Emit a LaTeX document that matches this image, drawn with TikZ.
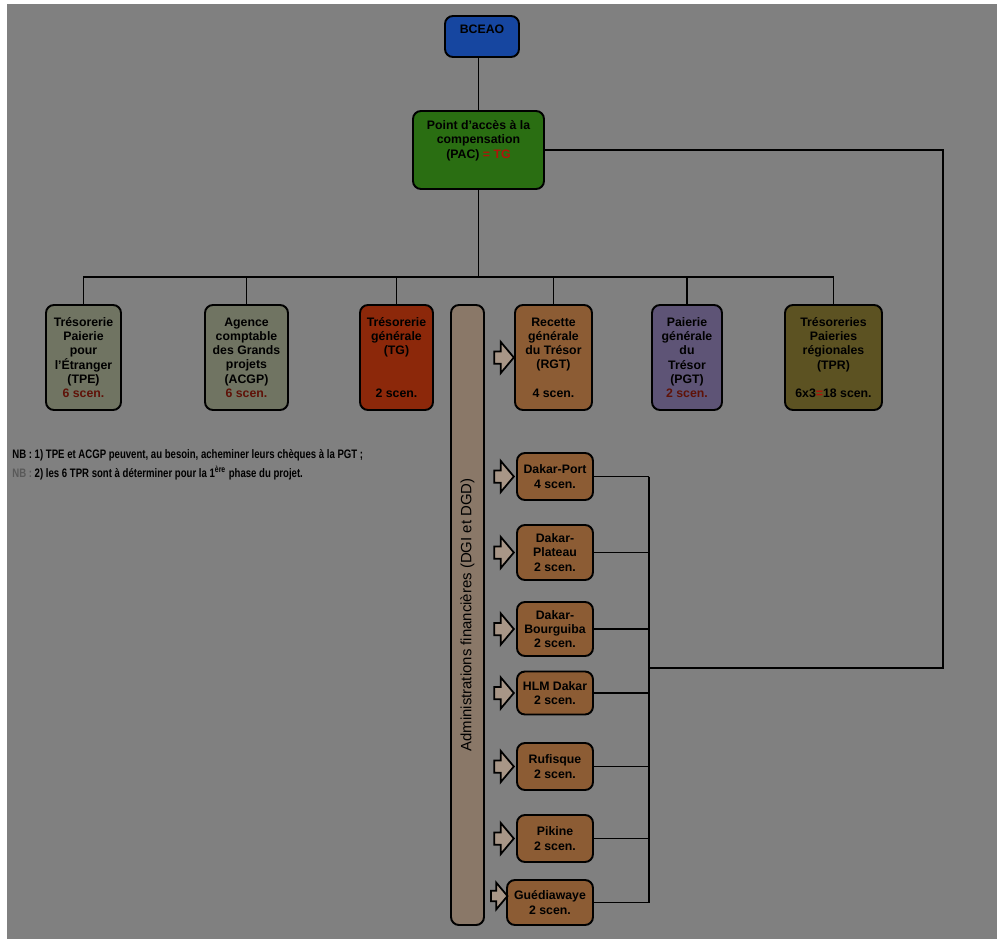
\documentclass[tikz,border=0pt]{standalone}
\usepackage{fontspec}
\setmainfont{Liberation Sans}
\newfontfamily\narrowfont[FakeStretch=0.78]{Liberation Sans}
\usepackage{xcolor}
\usetikzlibrary{shapes.arrows}

\definecolor{fond}{RGB}{128,128,128}
\definecolor{bleu}{RGB}{22,70,160}
\definecolor{vert}{RGB}{42,110,18}
\definecolor{grisvert}{RGB}{112,116,98}
\definecolor{brique}{RGB}{140,40,10}
\definecolor{brun}{RGB}{140,92,52}
\definecolor{mauve}{RGB}{94,84,118}
\definecolor{olive}{RGB}{92,82,34}
\definecolor{bandefond}{RGB}{138,120,104}
\definecolor{flechefond}{RGB}{168,150,135}
\definecolor{rouge}{RGB}{175,20,10}
\definecolor{rougefonce}{RGB}{95,18,8}

\begin{document}
\begin{tikzpicture}[x=0.2mm,y=-0.2mm]

\tikzset{
    box/.style = {
    draw, line width=1.1pt,
    rounded corners=1.6mm,
    align=center, inner sep=1pt,
    font=\fontsize{7}{8.1}\selectfont\bfseries
    }
}

\tikzstyle{siege}=[box, fill=bleu, minimum width=14.8mm, minimum height=8.2mm]
\tikzstyle{pac}=[box, fill=vert, minimum width=26.2mm, minimum height=15.6mm]
\tikzstyle{tresor}=[box, minimum width=15mm, minimum height=21mm]
\tikzstyle{dakar}=[box, fill=brun, minimum width=15.2mm]
\tikzstyle{bande}=[draw, line width=1.1pt, fill=bandefond, rounded corners=1.6mm, minimum width=124mm, minimum height=6.6mm, inner sep=0pt, font=\fontsize{8.5}{10}\selectfont]
\tikzstyle{fleche}=[single arrow, draw, line width=1pt, fill=flechefond, inner sep=1.05mm, minimum height=3.9mm, single arrow head extend=1.9mm, single arrow tip angle=100]
\tikzstyle{lien}=[line width=1.1pt]
\tikzstyle{note}=[align=left, inner sep=0pt, font={\narrowfont\bfseries\fontsize{7}{10.8}\selectfont}]

% fond
\fill[white] (0,0) rectangle (997,939);
\fill[fond] (7,4) rectangle (997,939);
\useasboundingbox (0,0) rectangle (997,939);

\node (bceao) [siege] at (482,36.5) {BCEAO\\~};
\node (pac) [pac] at (478.5,150) {Point d'accès à la\\compensation\\(PAC) {\color{rouge}= TG}\\[4pt]~};

\node (tpe) [tresor, fill=grisvert] at (83.5,357.5) {Trésorerie\\Paierie\\pour\\l'Étranger\\(TPE)\\{\color{rougefonce}6 scen.}};
\node (acgp) [tresor, fill=grisvert, minimum width=16.6mm] at (246.5,357.5) {Agence\\comptable\\des Grands\\projets\\(ACGP)\\{\color{rougefonce}6 scen.}};
\node (tg) [tresor, fill=brique, minimum width=14.6mm] at (396.5,357.5) {Trésorerie\\générale\\(TG)\\~\\~\\2 scen.};
\node (rgt) [tresor, fill=brun, minimum width=15.4mm] at (553.5,357.5) {Recette\\générale\\du Trésor\\(RGT)\\~\\4 scen.};
\node (pgt) [tresor, fill=mauve, minimum width=14mm] at (687,357.5) {Paierie\\générale\\du\\Trésor\\(PGT)\\{\color{rougefonce}2 scen.}};
\node (tpr) [tresor, fill=olive, minimum width=19.4mm] at (833.5,357.5) {Trésoreries\\Paieries\\régionales\\(TPR)\\~\\6x3{\color{rouge}=}18 scen.};

\node (admin) [bande, rotate=90] at (467.5,615) {Administrations financières (DGI et DGD)};

\node (port) [dakar, minimum height=9.4mm] at (555,476.5) {Dakar-Port\\4 scen.};
\node (plateau) [dakar, minimum height=11mm] at (555,552.5) {Dakar-\\Plateau\\2 scen.};
\node (bourguiba) [dakar, minimum height=10.8mm] at (555,629) {Dakar-\\Bourguiba\\2 scen.};
\node (hlm) [dakar, minimum height=8.6mm] at (555,693) {HLM Dakar\\2 scen.};
\node (rufisque) [dakar, minimum height=9.4mm] at (555,766.5) {Rufisque\\2 scen.};
\node (pikine) [dakar, minimum height=9.4mm] at (555,838.5) {Pikine\\2 scen.};
\node (guedia) [dakar, minimum width=17.2mm, minimum height=9mm] at (550,902.5) {Guédiawaye\\2 scen.};

% fleches
\coordinate (fx) at (501.5,0);
\node (f-rgt) [fleche] at (fx |- rgt.west) {};
\foreach \n in {port,plateau,bourguiba,hlm,rufisque,pikine}
    \node (f-\n) [fleche] at (fx |- \n.west) {};
\node (f-guedia) [fleche, scale=0.85] at (497,896) {};

% liens
\coordinate (bus) at (478.5,277);
\draw[lien] (pac.north) -- (pac.north |- bceao.south);
\draw[lien] (pac) -- (bus);
\foreach \n in {tpe,acgp,tg,rgt,pgt,tpr}
    \draw[lien] (\n.north) |- (bus);

\coordinate (coll) at (649,668);
\coordinate (retour) at (943,668);
\foreach \n in {port,plateau,bourguiba,hlm,rufisque,pikine,guedia}
    \draw[lien] (\n.east) -- (\n.east -| coll);
\draw[lien] (port.east -| coll) -- (guedia.east -| coll);
\draw[lien] (pac.east) -| (retour) -- (coll);

\node (nb) [note, anchor=north west] at (12,449) {NB : 1) TPE et ACGP peuvent, au besoin, acheminer leurs chèques à la PGT ;\\{\color{black!65}NB :} 2) les 6 TPR sont à déterminer pour la 1\textsuperscript{ère} phase du projet.};

\end{tikzpicture}
\end{document}
